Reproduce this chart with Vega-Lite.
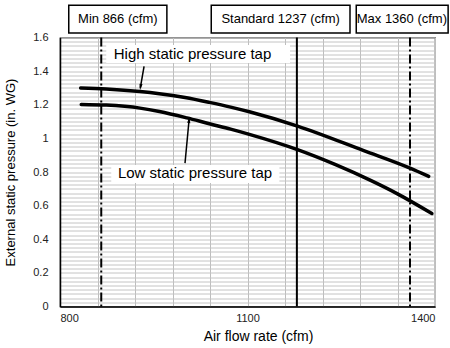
{
  "$schema": "https://vega.github.io/schema/vega-lite/v6.json",
  "width": 375,
  "height": 269,
  "autosize": {"type": "none"},
  "padding": {"left": 60, "top": 37.5, "right": 15, "bottom": 41.5},
  "background": "white",
  "config": {
    "font": "Liberation Sans",
    "view": {"stroke": "#333", "strokeWidth": 1.2},
    "axis": {"labelFont": "Liberation Sans", "titleFont": "Liberation Sans", "grid": true, "labelOverlap": false}
  },
  "datasets": {
    "curves": [
      {"series": "High", "cfm": 833, "esp": 1.300},
      {"series": "High", "cfm": 874, "esp": 1.294},
      {"series": "High", "cfm": 928, "esp": 1.279},
      {"series": "High", "cfm": 959, "esp": 1.266},
      {"series": "High", "cfm": 1000, "esp": 1.243},
      {"series": "High", "cfm": 1039, "esp": 1.214},
      {"series": "High", "cfm": 1073, "esp": 1.186},
      {"series": "High", "cfm": 1103, "esp": 1.158},
      {"series": "High", "cfm": 1180, "esp": 1.073},
      {"series": "High", "cfm": 1286, "esp": 0.927},
      {"series": "High", "cfm": 1360, "esp": 0.823},
      {"series": "High", "cfm": 1390, "esp": 0.774},
      {"series": "Low", "cfm": 834, "esp": 1.202},
      {"series": "Low", "cfm": 874, "esp": 1.198},
      {"series": "Low", "cfm": 928, "esp": 1.180},
      {"series": "Low", "cfm": 959, "esp": 1.160},
      {"series": "Low", "cfm": 1003, "esp": 1.122},
      {"series": "Low", "cfm": 1039, "esp": 1.087},
      {"series": "Low", "cfm": 1073, "esp": 1.055},
      {"series": "Low", "cfm": 1103, "esp": 1.024},
      {"series": "Low", "cfm": 1180, "esp": 0.933},
      {"series": "Low", "cfm": 1240, "esp": 0.845},
      {"series": "Low", "cfm": 1297, "esp": 0.750},
      {"series": "Low", "cfm": 1340, "esp": 0.670},
      {"series": "Low", "cfm": 1395, "esp": 0.553}
    ],
    "refs": [
      {"name": "Min", "cfm": 866, "kind": "limit"},
      {"name": "Standard", "cfm": 1179, "kind": "standard"},
      {"name": "Max", "cfm": 1360, "kind": "limit"}
    ],
    "topboxes": [
      {"label": "Min 866 (cfm)", "x1": 814, "x2": 971, "xc": 892.5},
      {"label": "Standard 1237 (cfm)", "x1": 1042, "x2": 1264, "xc": 1153},
      {"label": "Max 1360 (cfm)", "x1": 1274, "x2": 1421, "xc": 1347}
    ],
    "labels": [
      {"label": "High static pressure tap", "x1": 874, "x2": 1168, "y1": 1.449, "y2": 1.556, "xc": 1012, "yc": 1.500},
      {"label": "Low static pressure tap", "x1": 882, "x2": 1151, "y1": 0.735, "y2": 0.842, "xc": 1016, "yc": 0.792}
    ],
    "arrows": [
      {"name": "High", "x1": 934.5, "y1": 1.428, "x2": 928.5, "y2": 1.300, "hx": 928.8, "hy": 1.305, "dir": "down"},
      {"name": "Low", "x1": 1000, "y1": 0.853, "x2": 1006.5, "y2": 1.11, "hx": 1006.5, "hy": 1.11, "dir": "up"}
    ]
  },
  "layer": [
    {
      "data": {"name": "curves"},
      "mark": {"type": "line", "opacity": 0},
      "encoding": {
        "x": {
          "field": "cfm", "type": "quantitative",
          "scale": {"domain": [800, 1400], "nice": false, "zero": false},
          "axis": {
            "title": "Air flow rate (cfm)",
            "values": [800, 860, 920, 980, 1040, 1100, 1160, 1220, 1280, 1340, 1400],
            "tickCount": 1000,
            "labelExpr": "datum.value % 300 == 200 ? format(datum.value, 'd') : ''",
            "grid": true, "gridColor": "#bdbdbd", "gridWidth": 1, "labelOverlap": false,
            "ticks": false, "labelPadding": 6, "labelFontSize": 11, "labelColor": "#222",
            "domainColor": "#000", "domainWidth": 1.5,
            "titleFontSize": 14, "titleFontWeight": "normal", "titleColor": "#000",
            "titleX": 198, "titleY": 30, "titleBaseline": "middle", "titleAlign": "center"
          }
        },
        "y": {
          "field": "esp", "type": "quantitative",
          "scale": {"domain": [0, 1.6], "nice": false},
          "axis": {
            "title": "External static pressure (in. WG)",
            "values": [0,0.025,0.05,0.075,0.1,0.125,0.15,0.175,0.2,0.225,0.25,0.275,0.3,0.325,0.35,0.375,0.4,0.425,0.45,0.475,0.5,0.525,0.55,0.575,0.6,0.625,0.65,0.675,0.7,0.725,0.75,0.775,0.8,0.825,0.85,0.875,0.9,0.925,0.95,0.975,1,1.025,1.05,1.075,1.1,1.125,1.15,1.175,1.2,1.225,1.25,1.275,1.3,1.325,1.35,1.375,1.4,1.425,1.45,1.475,1.5,1.525,1.55,1.575,1.6],
            "tickCount": 1000,
            "labelExpr": "abs(datum.value*5 - round(datum.value*5)) < 0.001 ? format(datum.value, '~g') : ''",
            "grid": true, "gridColor": "#c4c4c4", "gridWidth": 1, "labelOverlap": false,
            "ticks": false, "labelPadding": 12, "labelFontSize": 11, "labelColor": "#222",
            "domainColor": "#000", "domainWidth": 1.5,
            "titleFontSize": 13, "titleFontWeight": "normal", "titleColor": "#000",
            "titleX": -50, "titleY": 134.5, "titleAngle": 270, "titleBaseline": "middle", "titleAlign": "center"
          }
        }
      }
    },
    {
      "data": {"name": "labels"},
      "mark": {"type": "rect", "fill": "white", "stroke": null},
      "encoding": {
        "x": {"field": "x1", "type": "quantitative"},
        "x2": {"field": "x2"},
        "y": {"field": "y1", "type": "quantitative"},
        "y2": {"field": "y2"}
      }
    },
    {
      "data": {"name": "labels"},
      "mark": {"type": "text", "fontSize": 15, "color": "#000", "align": "center", "baseline": "middle", "font": "Liberation Sans"},
      "encoding": {
        "x": {"field": "xc", "type": "quantitative"},
        "y": {"field": "yc", "type": "quantitative"},
        "text": {"field": "label"}
      }
    },
    {
      "data": {"name": "refs"},
      "transform": [{"filter": "datum.kind == 'limit'"}],
      "mark": {"type": "rule", "color": "#000", "strokeWidth": 2, "strokeDash": [9, 3, 2, 3]},
      "encoding": {
        "x": {"field": "cfm", "type": "quantitative"}
      }
    },
    {
      "data": {"name": "refs"},
      "transform": [{"filter": "datum.kind == 'standard'"}],
      "mark": {"type": "rule", "color": "#000", "strokeWidth": 2},
      "encoding": {
        "x": {"field": "cfm", "type": "quantitative"}
      }
    },
    {
      "data": {"name": "curves"},
      "mark": {"type": "line", "color": "#000", "strokeWidth": 3.5, "interpolate": "monotone", "strokeCap": "round"},
      "encoding": {
        "x": {"field": "cfm", "type": "quantitative"},
        "y": {"field": "esp", "type": "quantitative"},
        "detail": {"field": "series"}
      }
    },
    {
      "data": {"name": "arrows"},
      "mark": {"type": "rule", "color": "#000", "strokeWidth": 1.5},
      "encoding": {
        "x": {"field": "x1", "type": "quantitative"},
        "y": {"field": "y1", "type": "quantitative"},
        "x2": {"field": "x2"},
        "y2": {"field": "y2"}
      }
    },
    {
      "data": {"name": "arrows"},
      "transform": [{"filter": "datum.dir == 'down'"}],
      "mark": {"type": "point", "shape": "M-0.5,-1L0.5,-1L0,1Z", "filled": true, "color": "#000", "size": 40, "angle": 10, "opacity": 1},
      "encoding": {
        "x": {"field": "hx", "type": "quantitative"},
        "y": {"field": "hy", "type": "quantitative"}
      }
    },
    {
      "data": {"name": "arrows"},
      "transform": [{"filter": "datum.dir == 'up'"}],
      "mark": {"type": "point", "shape": "M-0.5,1L0.5,1L0,-1Z", "filled": true, "color": "#000", "size": 40, "angle": 6, "opacity": 1},
      "encoding": {
        "x": {"field": "hx", "type": "quantitative"},
        "y": {"field": "hy", "type": "quantitative"}
      }
    },
    {
      "data": {"name": "topboxes"},
      "mark": {"type": "rect", "fill": "white", "stroke": "#000", "strokeWidth": 1.5},
      "encoding": {
        "x": {"field": "x1", "type": "quantitative"},
        "x2": {"field": "x2"},
        "y": {"datum": 1.627, "type": "quantitative"},
        "y2": {"datum": 1.792}
      }
    },
    {
      "data": {"name": "topboxes"},
      "mark": {"type": "text", "fontSize": 13, "color": "#000", "align": "center", "baseline": "middle", "font": "Liberation Sans"},
      "encoding": {
        "x": {"field": "xc", "type": "quantitative"},
        "y": {"datum": 1.71, "type": "quantitative"},
        "text": {"field": "label"}
      }
    }
  ]
}
